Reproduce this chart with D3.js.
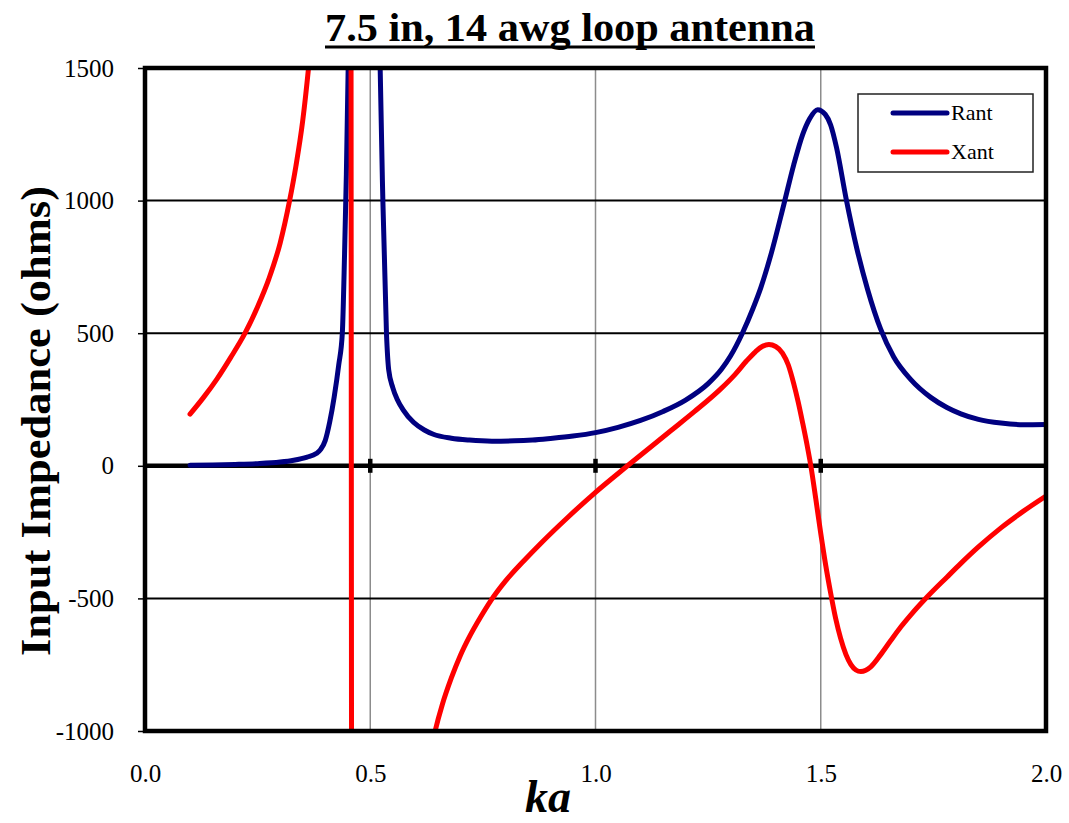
<!DOCTYPE html>
<html>
<head>
<meta charset="utf-8">
<script src="https://cdn.jsdelivr.net/npm/d3@7"></script>
<style>
  html, body { margin: 0; padding: 0; background: #fff; }
  svg { display: block; }
  text { font-family: "Liberation Serif", "Times New Roman", serif; }
</style>
</head>
<body>
<svg id="chart" width="1069" height="823"></svg>
<script>
// ---- data ----
const titleText = "7.5 in, 14 awg loop antenna";
const xLabelText = "ka";
const yLabelText = "Input Impedance (ohms)";
const seriesNames = ["Rant", "Xant"];
const seriesColors = ["#000080", "#ff0000"];

const xTicks = [0.0, 0.5, 1.0, 1.5, 2.0];
const xTickLabels = ["0.0", "0.5", "1.0", "1.5", "2.0"];
const yTicks = [-1000, -500, 0, 500, 1000, 1500];
const yTickLabels = ["-1000", "-500", "0", "500", "1000", "1500"];

// Rant (input resistance)
const rantKa = [0.10, 0.15, 0.20, 0.25, 0.30, 0.33, 0.36, 0.38, 0.39, 0.40, 0.41, 0.42, 0.43, 0.438, 0.443, 0.447, 0.451, 0.46, 0.475, 0.49, 0.505, 0.515, 0.522, 0.528, 0.536, 0.541, 0.55, 0.56, 0.573, 0.596, 0.62, 0.64, 0.68, 0.72, 0.77, 0.82, 0.86, 0.90, 0.95, 1.00, 1.05, 1.10, 1.15, 1.20, 1.25, 1.28, 1.30, 1.326, 1.35, 1.367, 1.39, 1.418, 1.44, 1.46, 1.475, 1.493, 1.51, 1.522, 1.535, 1.556, 1.58, 1.604, 1.633, 1.662, 1.70, 1.744, 1.78, 1.811, 1.85, 1.90, 1.95, 2.00];
const rantVal = [2, 3, 5, 8, 14, 21, 33, 46, 62, 95, 165, 260, 380, 500, 800, 1100, 1500, 3000, 6000, 7000, 5000, 2500, 1500, 1000, 500, 361, 295, 250, 211, 164, 135, 119, 104, 97, 93, 94, 97, 103, 112, 125, 145, 171, 205, 248, 310, 365, 415, 500, 595, 672, 800, 985, 1135, 1250, 1308, 1343, 1325, 1285, 1200, 1010, 820, 665, 515, 410, 325, 258, 220, 196, 175, 161, 155, 156];

// Xant (input reactance)
const xantKa = [0.10, 0.13, 0.16, 0.19, 0.222, 0.25, 0.275, 0.30, 0.321, 0.335, 0.35, 0.363, 0.375, 0.39, 0.41, 0.44, 0.455, 0.461, 0.50, 0.57, 0.62, 0.644, 0.66, 0.68, 0.70, 0.72, 0.745, 0.767, 0.80, 0.84, 0.88, 0.94, 1.00, 1.071, 1.167, 1.22, 1.278, 1.31, 1.335, 1.355, 1.37, 1.385, 1.40, 1.415, 1.428, 1.44, 1.45, 1.46, 1.47, 1.478, 1.489, 1.50, 1.511, 1.522, 1.533, 1.544, 1.556, 1.567, 1.578, 1.589, 1.60, 1.611, 1.633, 1.655, 1.678, 1.70, 1.737, 1.78, 1.811, 1.85, 1.90, 1.95, 2.00];
const xantVal = [195, 258, 328, 408, 500, 600, 705, 840, 1000, 1130, 1300, 1500, 1720, 2050, 2600, 4000, 5000, -5000, -3000, -1700, -1200, -1000, -900, -800, -715, -645, -570, -510, -435, -360, -290, -192, -100, 0, 132, 205, 290, 345, 395, 430, 450, 457, 450, 425, 380, 310, 240, 160, 75, 0, -125, -255, -375, -480, -575, -650, -712, -750, -770, -776, -771, -758, -712, -660, -607, -562, -493, -420, -368, -306, -234, -171, -114];

// ---- layout ----
const svg = d3.select("#chart");
const plotL = 145, plotR = 1046, plotT = 68, plotB = 731;

const x = d3.scaleLinear().domain([0, 2]).range([plotL, plotR]);
const y = d3.scaleLinear().domain([-1000, 1500]).range([plotB, plotT]);

svg.append("defs").append("clipPath").attr("id", "plotClip")
  .append("rect").attr("x", plotL).attr("y", plotT)
  .attr("width", plotR - plotL).attr("height", plotB - plotT);

// vertical gray gridlines
svg.append("g").selectAll("line")
  .data(xTicks.filter(d => d > 0 && d < 2))
  .join("line")
  .attr("x1", d => x(d)).attr("x2", d => x(d))
  .attr("y1", plotT).attr("y2", plotB)
  .attr("stroke", "#8c8c8c").attr("stroke-width", 1.5);

// horizontal black gridlines
svg.append("g").selectAll("line")
  .data(yTicks.filter(d => d !== 0 && d !== -1000 && d !== 1500))
  .join("line")
  .attr("x1", plotL).attr("x2", plotR)
  .attr("y1", d => y(d)).attr("y2", d => y(d))
  .attr("stroke", "#000").attr("stroke-width", 2);

// y axis (left) with outward ticks and labels
const yAxis = d3.axisLeft(y).tickValues(yTicks)
  .tickFormat((d, i) => yTickLabels[i]).tickSize(7).tickPadding(24);
const gy = svg.append("g").attr("transform", `translate(${plotL},0)`).call(yAxis);
gy.select(".domain").remove();
gy.selectAll(".tick line").attr("stroke", "#000").attr("stroke-width", 1.5);
gy.selectAll(".tick text")
  .attr("font-family", "Liberation Serif, serif")
  .attr("font-size", 25).attr("fill", "#000");

// zero line (x axis crossing at 0) with tick marks
svg.append("line")
  .attr("x1", plotL).attr("x2", plotR)
  .attr("y1", y(0)).attr("y2", y(0))
  .attr("stroke", "#000").attr("stroke-width", 4.5);
svg.append("g").selectAll("line")
  .data(xTicks.filter(d => d > 0 && d < 2))
  .join("line")
  .attr("x1", d => x(d)).attr("x2", d => x(d))
  .attr("y1", y(0) - 7).attr("y2", y(0) + 7)
  .attr("stroke", "#000").attr("stroke-width", 4.5);

// x tick labels (below the plot)
const xAxis = d3.axisBottom(x).tickValues(xTicks)
  .tickFormat((d, i) => xTickLabels[i]).tickSize(0).tickPadding(33);
const gx = svg.append("g").attr("transform", `translate(0,${plotB})`).call(xAxis);
gx.select(".domain").remove();
gx.selectAll(".tick text")
  .attr("font-family", "Liberation Serif, serif")
  .attr("font-size", 25).attr("fill", "#000");

// series
const line = d3.line().x(d => x(d[0])).y(d => y(d[1])).curve(d3.curveMonotoneX);
const seriesData = [
  d3.zip(rantKa, rantVal),
  d3.zip(xantKa, xantVal)
];
const gs = svg.append("g").attr("clip-path", "url(#plotClip)");
seriesData.forEach((pts, i) => {
  gs.append("path").datum(pts)
    .attr("d", line)
    .attr("fill", "none")
    .attr("stroke", seriesColors[i])
    .attr("stroke-width", 5)
    .attr("stroke-linejoin", "round")
    .attr("stroke-linecap", "round");
});

// plot border
svg.append("rect")
  .attr("x", plotL).attr("y", plotT)
  .attr("width", plotR - plotL).attr("height", plotB - plotT)
  .attr("fill", "none").attr("stroke", "#000").attr("stroke-width", 4.5);

// legend
const lg = svg.append("g");
lg.append("rect").attr("x", 858).attr("y", 94).attr("width", 175).attr("height", 78)
  .attr("fill", "#fff").attr("stroke", "#222").attr("stroke-width", 1.5);
seriesNames.forEach((name, i) => {
  const ly = 113 + i * 39;
  lg.append("line").attr("x1", 893).attr("x2", 947).attr("y1", ly).attr("y2", ly)
    .attr("stroke", seriesColors[i]).attr("stroke-width", 5).attr("stroke-linecap", "round");
  lg.append("text").attr("x", 951).attr("y", ly + 7)
    .attr("font-size", 22).attr("fill", "#000").text(name);
});

// title with underline
svg.append("text")
  .attr("x", 570).attr("y", 41)
  .attr("text-anchor", "middle")
  .attr("font-size", 40).attr("font-weight", "bold")
  .attr("textLength", 490).attr("lengthAdjust", "spacingAndGlyphs")
  .text(titleText);
svg.append("line")
  .attr("x1", 570 - 245).attr("x2", 570 + 245)
  .attr("y1", 47).attr("y2", 47)
  .attr("stroke", "#000").attr("stroke-width", 3);

// x label
svg.append("text")
  .attr("x", 548).attr("y", 812)
  .attr("text-anchor", "middle")
  .attr("font-size", 46).attr("font-weight", "bold").attr("font-style", "italic")
  .text(xLabelText);

// y label
svg.append("text")
  .attr("transform", "translate(50,421) rotate(-90)")
  .attr("text-anchor", "middle")
  .attr("font-size", 42).attr("font-weight", "bold")
  .attr("textLength", 470).attr("lengthAdjust", "spacingAndGlyphs")
  .text(yLabelText);
</script>
</body>
</html>
